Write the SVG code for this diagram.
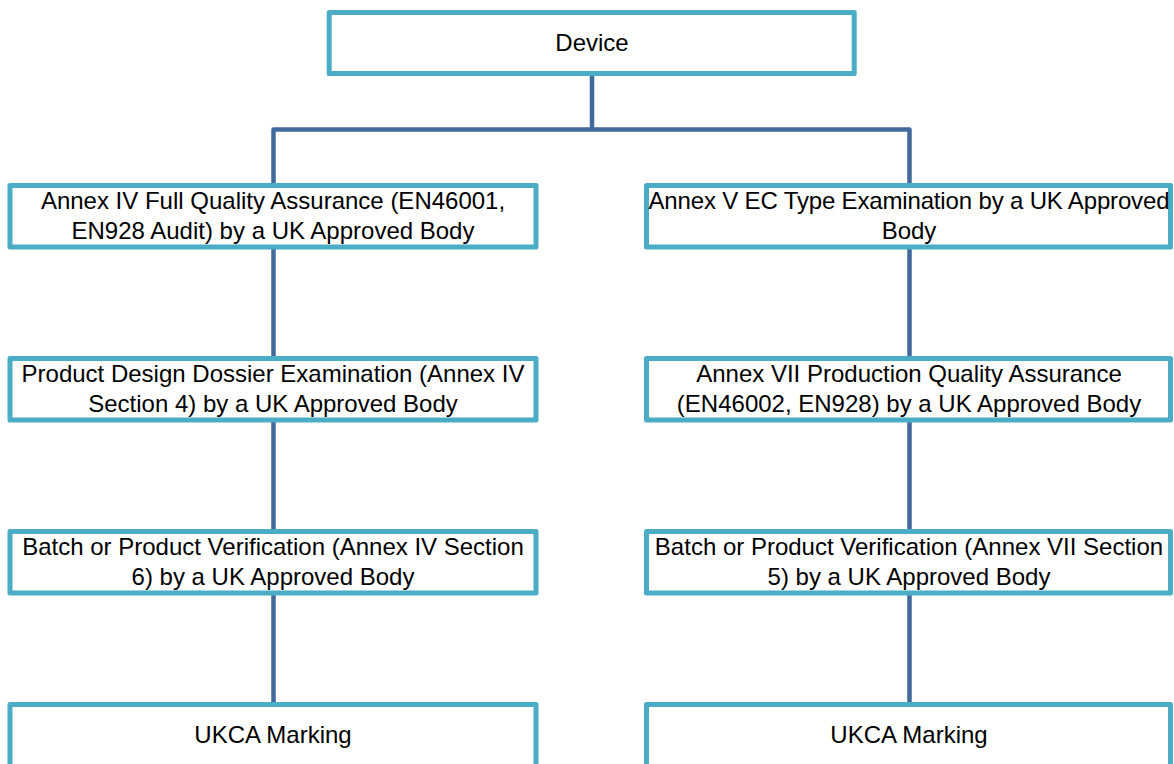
<svg xmlns="http://www.w3.org/2000/svg" width="1174" height="764" viewBox="0 0 1174 764">
<style>
.box{fill:#FFFFFF;stroke:#4BACC6;stroke-width:5;stroke-linejoin:round}
.conn{fill:none;stroke:#41699C;stroke-width:4.5;stroke-linejoin:round}
.t{font-family:"Liberation Sans",Arial,sans-serif;font-size:24px;fill:#000000;text-anchor:middle}
</style>
<rect width="1174" height="764" fill="#FFFFFF"/>
<g id="connectors">
<path class="conn" d="M592,76 V129.5"/>
<path class="conn" d="M273.5,183 V129.5 H909.5 V183"/>
<path class="conn" d="M273.5,249 V356"/>
<path class="conn" d="M273.5,422 V529"/>
<path class="conn" d="M273.5,595 V702"/>
<path class="conn" d="M909.5,249 V356"/>
<path class="conn" d="M909.5,422 V529"/>
<path class="conn" d="M909.5,595 V702"/>
</g>
<g id="device">
<rect class="box" x="329.2" y="12.5" width="525" height="61"/>
<text class="t" x="592" y="51">Device</text>
</g>
<g id="annex-iv-fqa">
<rect class="box" x="10" y="185.5" width="526" height="61.5"/>
<text class="t" x="273" y="208.5">Annex IV Full Quality Assurance (EN46001,</text>
<text class="t" x="273" y="238.5">EN928 Audit) by a UK Approved Body</text>
</g>
<g id="annex-v-ec">
<rect class="box" x="646.5" y="185.5" width="524" height="61.5"/>
<text class="t" x="909" y="208.5" textLength="521">Annex V EC Type Examination by a UK Approved</text>
<text class="t" x="909" y="238.5">Body</text>
</g>
<g id="pdd-exam">
<rect class="box" x="10" y="358.5" width="526" height="61.5"/>
<text class="t" x="273" y="381.5">Product Design Dossier Examination (Annex IV</text>
<text class="t" x="273" y="411.5">Section 4) by a UK Approved Body</text>
</g>
<g id="annex-vii-pqa">
<rect class="box" x="646.5" y="358.5" width="524" height="61.5"/>
<text class="t" x="909" y="381.5">Annex VII Production Quality Assurance</text>
<text class="t" x="909" y="411.5">(EN46002, EN928) by a UK Approved Body</text>
</g>
<g id="batch-iv">
<rect class="box" x="10" y="531.5" width="526" height="61.5"/>
<text class="t" x="273" y="554.5">Batch or Product Verification (Annex IV Section</text>
<text class="t" x="273" y="584.5">6) by a UK Approved Body</text>
</g>
<g id="batch-vii">
<rect class="box" x="646.5" y="531.5" width="524" height="61.5"/>
<text class="t" x="909" y="554.5">Batch or Product Verification (Annex VII Section</text>
<text class="t" x="909" y="584.5">5) by a UK Approved Body</text>
</g>
<g id="ukca-left">
<rect class="box" x="10" y="704.5" width="526" height="90"/>
<text class="t" x="273" y="742.5">UKCA Marking</text>
</g>
<g id="ukca-right">
<rect class="box" x="646.5" y="704.5" width="524" height="90"/>
<text class="t" x="909" y="742.5">UKCA Marking</text>
</g>
</svg>
